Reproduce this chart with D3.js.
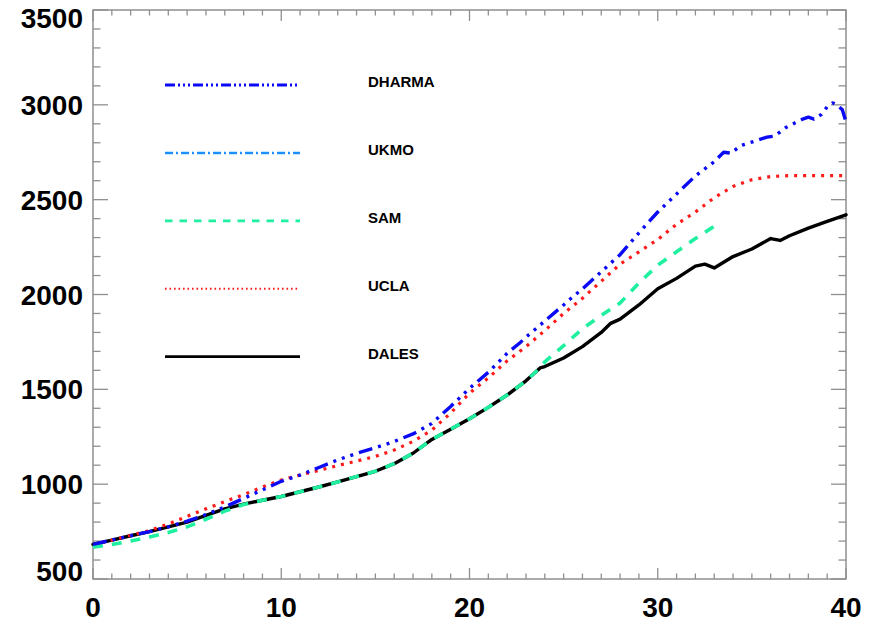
<!DOCTYPE html>
<html>
<head>
<meta charset="utf-8">
<script src="https://cdn.jsdelivr.net/npm/d3@7"></script>
<style>
  html, body { margin: 0; padding: 0; background: #fff; }
  svg { display: block; }
  .tick-label { font-family: "Liberation Sans", Arial, Helvetica, sans-serif; font-weight: bold; font-size: 28px; fill: #000; }
  .legend-label { font-family: "Liberation Sans", Arial, Helvetica, sans-serif; font-weight: bold; font-size: 15px; fill: #000; }
</style>
</head>
<body>
<svg id="chart" width="878" height="624"></svg>
<script>
// ---- series data (time, value) ----
const dharmaT = [0, 1, 2, 3, 4, 5, 6, 7, 8, 9, 10, 11, 12, 13, 14, 15, 16, 17, 18, 19, 20, 21, 22, 22.7, 23, 24, 25, 25.3, 26, 27, 28, 29, 30, 31, 32, 32.6, 33, 33.5, 33.9, 34.4, 35.2, 35.8, 36.2, 36.8, 37.3, 37.7, 38.0, 38.3, 38.7, 39.0, 39.3, 39.5, 39.8, 40];
const dharmaV = [683, 705, 728, 750, 775, 805, 840, 880, 925, 970, 1015, 1048, 1088, 1128, 1162, 1192, 1225, 1265, 1320, 1410, 1505, 1590, 1690, 1747, 1775, 1860, 1945, 1972, 2030, 2120, 2210, 2325, 2435, 2530, 2625, 2670, 2700, 2750, 2745, 2785, 2810, 2830, 2835, 2880, 2905, 2925, 2935, 2925, 2950, 2990, 3010, 3000, 2975, 2910];

const ukmoT = [];
const ukmoV = [];

const samT = [0, 1, 2, 3, 4, 5, 6, 7, 8, 9, 10, 11, 12, 13, 14, 15, 16, 17, 18, 19, 20, 21, 22, 23, 23.75, 24, 25, 26, 27, 28, 29, 30, 31, 32, 33];
const samV = [668, 682, 700, 722, 745, 775, 815, 858, 893, 915, 935, 960, 985, 1012, 1040, 1068, 1108, 1163, 1236, 1290, 1345, 1405, 1470, 1545, 1613, 1645, 1730, 1820, 1890, 1955, 2060, 2155, 2225, 2295, 2360];

const uclaT = [0, 1, 2, 3, 4, 5, 6, 7, 8, 9, 10, 11, 12, 13, 14, 15, 16, 17, 18, 19, 20, 21, 22, 23, 24, 25, 26, 27, 28, 29, 30, 31, 32, 33, 34, 35, 36, 37, 38, 39, 40];
const uclaV = [680, 705, 730, 755, 790, 830, 870, 908, 945, 985, 1022, 1048, 1073, 1098, 1122, 1146, 1180, 1225, 1285, 1375, 1480, 1560, 1650, 1725, 1810, 1900, 1980, 2070, 2160, 2225, 2290, 2370, 2435, 2510, 2570, 2605, 2622, 2627, 2627, 2627, 2627];

const dalesT = [0, 1, 2, 3, 4, 5, 6, 7, 8, 9, 10, 11, 12, 13, 14, 15, 16, 17, 18, 19, 20, 21, 22, 23, 23.75, 24, 25, 26, 27, 27.5, 28, 29, 30, 31, 32, 32.5, 33, 34, 35, 36, 36.5, 37, 38, 39, 40];
const dalesV = [683, 705, 728, 750, 775, 800, 835, 870, 895, 915, 935, 960, 985, 1012, 1040, 1068, 1108, 1163, 1236, 1290, 1345, 1405, 1470, 1545, 1613, 1620, 1665, 1725, 1800, 1848, 1870, 1945, 2030, 2085, 2150, 2160, 2140, 2200, 2240, 2295, 2285, 2310, 2350, 2385, 2420];

// ---- axis tick values ----
const xTickValues = [0, 10, 20, 30, 40];
const yTickValues = [500, 1000, 1500, 2000, 2500, 3000, 3500];

// ---- series styling (legend order) ----
const series = [
  { name: "DHARMA", t: dharmaT, v: dharmaV, color: "#0a0af5", width: 3.4, dash: "14,6,3,6,3,6,3,6", legendWidth: 3, legendDash: "10,3,2,3,2,3,2,3" },
  { name: "UKMO",   t: ukmoT,   v: ukmoV,   color: "#1e8fff", width: 3.2, dash: "12,6,3,6",         legendWidth: 2.5, legendDash: "8,3,2,3" },
  { name: "SAM",    t: samT,    v: samV,    color: "#1ff0a0", width: 3.6, dash: "10,9",             legendWidth: 2.8, legendDash: "7.5,7" },
  { name: "UCLA",   t: uclaT,   v: uclaV,   color: "#ff1a1a", width: 3.2, dash: "3,6",              legendWidth: 2, legendDash: "1.6,2.9" },
  { name: "DALES",  t: dalesT,  v: dalesV,  color: "#000000", width: 3.4, dash: null,               legendWidth: 2.6, legendDash: null }
];

const svg = d3.select("#chart");
const plotLeft = 93, plotRight = 846, plotTop = 10, plotBottom = 579;

const x = d3.scaleLinear().domain([0, 40]).range([plotLeft, plotRight]);
const y = d3.scaleLinear().domain([500, 3500]).range([plotBottom, plotTop]);

const axisColor = "#8f8f8f";

// frame
svg.append("rect")
  .attr("x", plotLeft).attr("y", plotTop)
  .attr("width", plotRight - plotLeft).attr("height", plotBottom - plotTop)
  .attr("fill", "none").attr("stroke", axisColor).attr("stroke-width", 1.5);

// tick marks on all four sides, pointing inward
const xMinor = d3.range(0, 41, 1);
const yMinor = d3.range(500, 3501, 100);
const ticks = svg.append("g").attr("stroke", axisColor).attr("stroke-width", 1.3);
xMinor.forEach(t => {
  const major = t % 10 === 0;
  const len = major ? 11 : 5.5;
  ticks.append("line").attr("x1", x(t)).attr("x2", x(t)).attr("y1", plotBottom).attr("y2", plotBottom - len);
  ticks.append("line").attr("x1", x(t)).attr("x2", x(t)).attr("y1", plotTop).attr("y2", plotTop + len);
});
yMinor.forEach(v => {
  const major = v % 500 === 0;
  const len = major ? 15 : 7.5;
  ticks.append("line").attr("x1", plotLeft).attr("x2", plotLeft + len).attr("y1", y(v)).attr("y2", y(v));
  ticks.append("line").attr("x1", plotRight).attr("x2", plotRight - len).attr("y1", y(v)).attr("y2", y(v));
});

// tick labels
svg.append("g").selectAll("text").data(xTickValues).join("text")
  .attr("class", "tick-label")
  .attr("x", d => x(d)).attr("y", 617)
  .attr("text-anchor", "middle")
  .text(d => d);

// the end labels are kept inside the vertical extent of the frame
const yMin = d3.min(yTickValues), yMax = d3.max(yTickValues);
svg.append("g").selectAll("text").data(yTickValues).join("text")
  .attr("class", "tick-label")
  .attr("x", 83)
  .attr("y", d => y(d) + 10 + (d === yMax ? 8 : d === yMin ? -8 : 0))
  .attr("text-anchor", "end")
  .text(d => d);

// data lines
const line = d3.line().x(d => x(d[0])).y(d => y(d[1]));
const plot = svg.append("g");
series.slice().reverse().forEach(s => {
  if (!s.t.length) return;
  const pts = s.t.map((t, i) => [t, s.v[i]]);
  plot.append("path")
    .attr("d", line(pts))
    .attr("fill", "none")
    .attr("stroke", s.color)
    .attr("stroke-width", s.width)
    .attr("stroke-linejoin", "round")
    .attr("stroke-dasharray", s.dash)
    .attr("stroke-linecap", s.dash ? "butt" : "round");
});

// legend
const legendY0 = 85, legendStep = 67.9;
const legend = svg.append("g");
series.forEach((s, i) => {
  const ly = legendY0 + i * legendStep;
  legend.append("line")
    .attr("x1", 165).attr("x2", 300).attr("y1", ly).attr("y2", ly)
    .attr("stroke", s.color)
    .attr("stroke-width", s.legendWidth)
    .attr("stroke-dasharray", s.legendDash);
  legend.append("text")
    .attr("class", "legend-label")
    .attr("x", 368).attr("y", ly + 2)
    .text(s.name);
});
</script>
</body>
</html>
